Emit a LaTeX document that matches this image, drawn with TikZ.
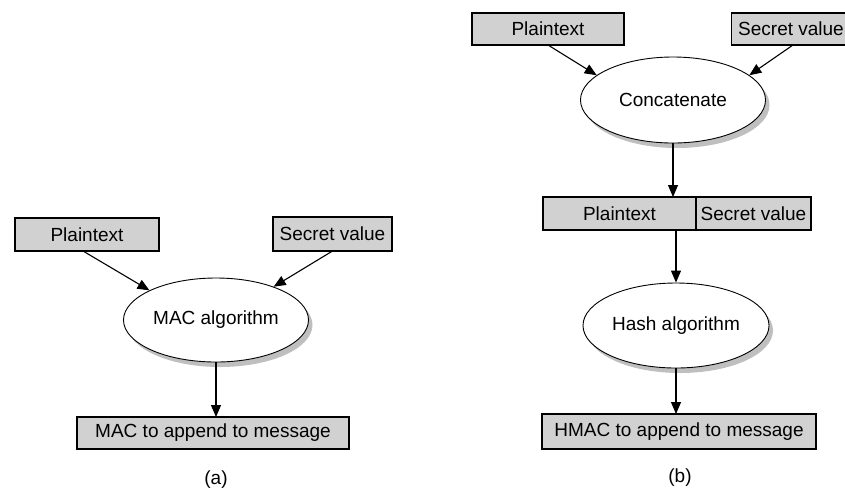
\documentclass[tikz,border=0pt]{standalone}
\usepackage{fontspec}
\setmainfont{Liberation Sans}
\usetikzlibrary{shapes.geometric,shadows,positioning,arrows.meta}

\tikzset{
    databox/.style={draw, rectangle, fill=black!18, line width=1.1pt, minimum height=33pt, inner sep=0pt, outer sep=0pt},
    algo/.style={draw, ellipse, fill=white, line width=0.9pt, minimum width=185pt, minimum height=84pt, inner sep=0pt,
        drop shadow={shadow xshift=4pt, shadow yshift=-5pt, fill=black!25, opacity=1}},
    flow/.style={-{Triangle[length=12pt,width=10pt]}, line width=1.1pt}
}

\begin{document}
\begin{tikzpicture}[x=1pt, y=-1pt, every node/.style={font=\fontsize{19}{22}\selectfont}]
    \useasboundingbox (0,0) rectangle (845,491);
    \clip (0,0) rectangle (845,491);

    % (a) MAC
    \node[databox, minimum width=144pt] (pt) at (87,234.5) {Plaintext};
    \node[databox, minimum width=119pt, minimum height=34pt] (sv) at (332.5,234) {Secret value};
    \node[algo] (mac) at (216,320) {MAC algorithm};
    \node[databox, minimum width=272pt, minimum height=32pt] (out) at (213,433) {MAC to append to message};
    \node (la) at (216,480) {(a)};

    \draw[flow] ([xshift=-4pt]pt.south) -- (mac.156);
    \draw[flow] (sv.south) -- (mac.30);
    \draw[flow] (mac.south) -- (mac.south |- out.north);

    % (b) HMAC
    \node[databox, minimum width=152pt, minimum height=32pt] (pt2) at (548,29) {Plaintext};
    \node[databox, minimum width=119pt, minimum height=32pt] (sv2) at (791,29) {Secret value};
    \node[algo, minimum height=86pt] (cat) at (673,100) {Concatenate};
    \node[databox, minimum width=153pt] (cp) at (619.5,213.5) {Plaintext};
    \node[databox, minimum width=115pt, right=0pt of cp] (cs) {Secret value};
    \node[algo, minimum width=186pt, minimum height=85pt] (hash) at (676,325.5) {Hash algorithm};
    \node[databox, minimum width=274pt, minimum height=35pt] (hmac) at (679,431.5) {HMAC to append to message};
    \node (lb) at (680,478) {(b)};

    \draw[flow] ([xshift=2pt]sv2.south) -- (cat.18);
    \draw[flow] (pt2.south) -- (cat.162);
    \draw[flow] (cat.south) -- (cat.south |- cp.north);
    \draw[flow] (cp.south -| hash.north) -- (hash.north);
    \draw[flow] (hash.south) -- (hash.south |- hmac.north);
\end{tikzpicture}
\end{document}
